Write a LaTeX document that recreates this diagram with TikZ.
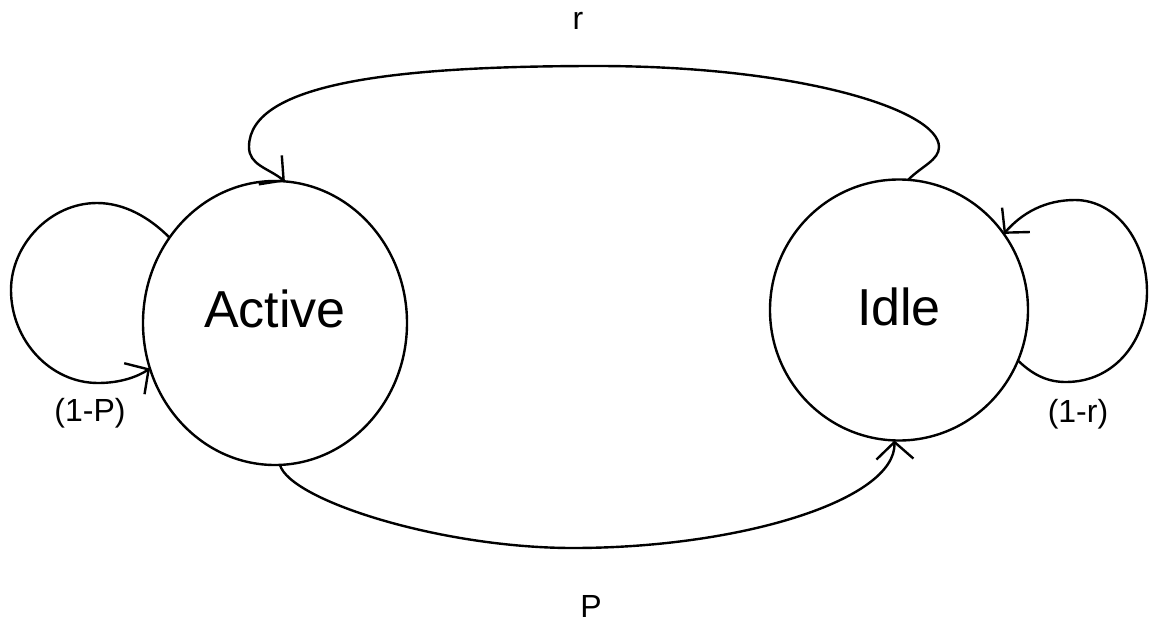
\documentclass[tikz,border=0pt]{standalone}
\usepackage{fontspec}
\setmainfont{Liberation Sans}
\usetikzlibrary{shapes.geometric,arrows.meta}
\begin{document}
\begin{tikzpicture}[x=1pt,y=-1pt,
  conn/.style={line width=2.4pt},
  tipped/.style={-{Straight Barb[length=17pt,width=37pt]}},
  state/.style={draw,ellipse,line width=2.4pt,inner sep=0pt,outer sep=0pt,font=\fontsize{52}{60}\selectfont},
  lbl/.style={font=\fontsize{32}{38}\selectfont,inner sep=0pt}]
\useasboundingbox (0,0) rectangle (1152,624);
\node[state,minimum width=264pt,minimum height=284pt,text depth=28pt] (act) at (275,323) {Active};
\node[state,minimum width=258pt,minimum height=261pt,text depth=7pt] (idle) at (899,310) {Idle};
% r : Idle -> Active (top)
\draw[conn,tipped] (idle.86) .. controls (922,166) and (939,160) .. (939,147)
  .. controls (939,110) and (800,66) .. (597,66)
  .. controls (400,66) and (249,82) .. (249,147)
  .. controls (249,165) and (268,168) .. (act.86);
% P : Active -> Idle (bottom)
\draw[conn,tipped] (act.272) .. controls (290,500) and (440,548) .. (573,548)
  .. controls (740,548) and (896,500) .. (idle.268);
% 1-P self loop
\draw[conn,tipped] (act.141) .. controls (150,218) and (125,203) .. (97,203)
  .. controls (50,203) and (11,245) .. (11,290)
  .. controls (11,340) and (50,383) .. (98,383)
  .. controls (120,383) and (137,377) .. (act.200);
% 1-r self loop
\draw[conn,tipped] (idle.337) .. controls (1035,377) and (1050,382) .. (1066,382)
  .. controls (1115,382) and (1147,340) .. (1147,292)
  .. controls (1147,240) and (1115,200) .. (1075,200)
  .. controls (1045,200) and (1022,213) .. (idle.36);
\node[lbl] (lr) at (578,21) {r};
\node[lbl] (lp) at (591,606) {P};
\node[lbl] (l1p) at (90,413) {(1-P)};
\node[lbl] (l1r) at (1078,414) {(1-r)};
\end{tikzpicture}
\end{document}
